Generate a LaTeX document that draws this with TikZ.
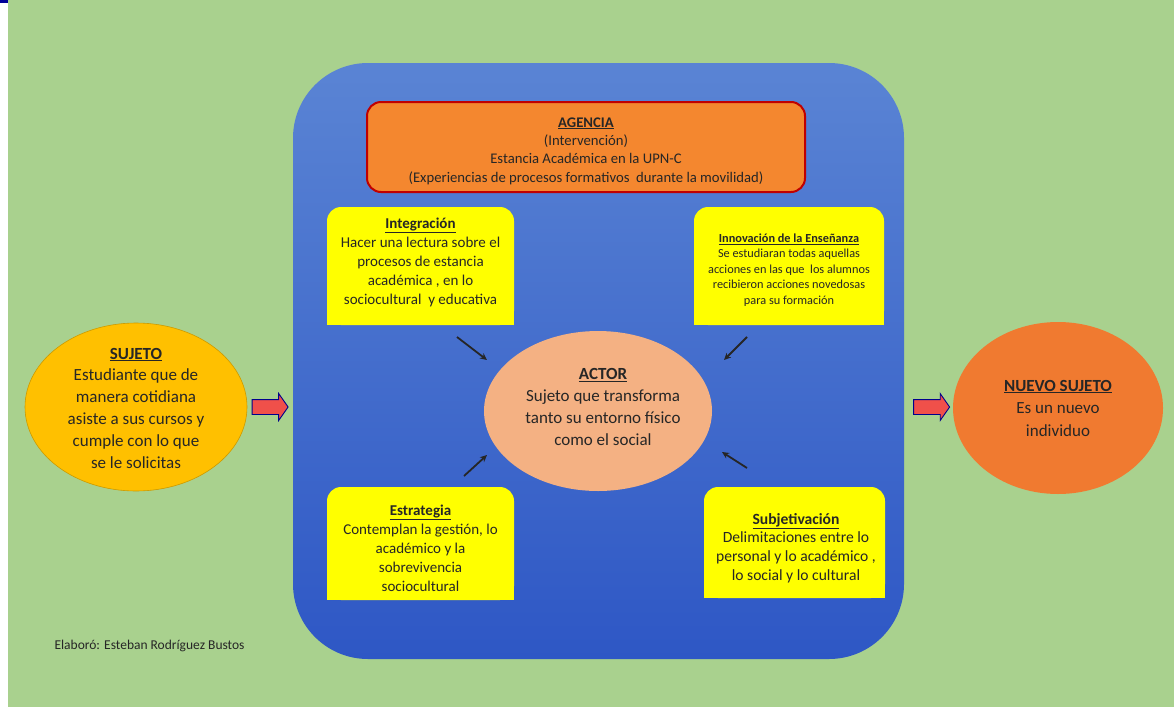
\documentclass[tikz,border=0pt]{standalone}
\usepackage{fontspec}
\setmainfont{Carlito}
\usetikzlibrary{shapes.arrows,shapes.geometric,arrows.meta}
\definecolor{bggreen}{HTML}{A9D18E}
\definecolor{bluetop}{HTML}{5A84D4}
\definecolor{bluebot}{HTML}{2E57C5}
\definecolor{agorange}{HTML}{F4872F}
\definecolor{agred}{HTML}{C00000}
\definecolor{yel}{HTML}{FFFF00}
\definecolor{salmon}{HTML}{F4B183}
\definecolor{gold}{HTML}{FFC000}
\definecolor{neworange}{HTML}{F07A30}
\definecolor{arrred}{HTML}{F0504A}
\definecolor{txt}{HTML}{262626}
\tikzset{
  ybox/.style={text=txt, align=center, font=\fontsize{15}{19}\selectfont},
  bigell/.style={ellipse},
  ltxt/.style={text=txt, align=center},
  blockarrow/.style={single arrow, fill=arrred, draw=blue!55!black, line width=0.9pt, minimum height=36pt, inner xsep=0pt, inner ysep=7pt, single arrow head extend=6pt, single arrow tip angle=110},
  smallarrow/.style={-{Stealth[length=7pt,width=6.5pt]}, line width=1.8pt, black!85}
}
\begin{document}
\begin{tikzpicture}[x=1pt,y=-1pt]
\useasboundingbox (0,0) rectangle (1174,707);
\fill[white] (0,0) rectangle (1174,707);
\fill[bggreen] (8,0) rectangle (1174,707);
\fill[blue!60!black] (0,0) rectangle (8,3);
% big blue panel
\shade[top color=bluetop, bottom color=bluebot, rounded corners=75pt] (293,63) rectangle (904,659);
% AGENCIA
\draw[fill=agorange, draw=agred, line width=2pt, rounded corners=14pt] (367,102) rectangle (805,192);
\node[ltxt, font=\fontsize{14.7}{18.4}\selectfont] (agencia) at (586,151) {\textbf{\underline{AGENCIA}}\\(Intervención)\\Estancia Académica en la UPN-C\\(Experiencias de procesos formativos\ \ durante la movilidad)};
% yellow boxes
\fill[yel, rounded corners=14pt] (327,325) |- (514,207) |- cycle;
\fill[yel] (327,310) rectangle (514,325);
\node[ybox] (integ) at (420.5,262) {\textbf{\underline{Integración}}\\Hacer una lectura sobre el\\procesos de estancia\\académica , en lo\\sociocultural\ \ y educativa};
\fill[yel, rounded corners=14pt] (694,325) |- (884,207) |- cycle;
\fill[yel] (694,310) rectangle (884,325);
\node[ybox, font=\fontsize{12.3}{15.5}\selectfont] (innov) at (789,270) {\textbf{\underline{Innovación de la Enseñanza}}\\Se estudiaran todas aquellas\\acciones en las que\ \ los alumnos\\recibieron acciones novedosas\\para su formación};
\fill[yel, rounded corners=14pt] (327,600) |- (514,487) |- cycle;
\fill[yel] (327,585) rectangle (514,600);
\node[ybox] (estrat) at (420.5,548) {\textbf{\underline{Estrategia}}\\Contemplan la gestión, lo\\académico y la\\sobrevivencia\\sociocultural};
\fill[yel, rounded corners=14pt] (704,598) |- (885,487) |- cycle;
\fill[yel] (704,583) rectangle (885,598);
\node[ybox, font=\fontsize{15.6}{18.8}\selectfont] (subj) at (796,548) {\textbf{\underline{Subjetivación}}\\Delimitaciones entre lo\\personal y lo académico ,\\lo social y lo cultural};
% ACTOR
\node[bigell, fill=salmon, minimum width=228pt, minimum height=160pt] (actor) at (598,411) {};
\node[ltxt, font=\fontsize{17}{22}\selectfont] (actortxt) at (603,407) {\textbf{\underline{ACTOR}}\\Sujeto que transforma\\tanto su entorno físico\\como el social};
% SUJETO
\node[bigell, fill=gold, draw=gold!80!black, line width=0.6pt, minimum width=222pt, minimum height=168pt] (sujeto) at (136,407) {};
\node[ltxt, font=\fontsize{17}{21.8}\selectfont] (sujetotxt) at (136,408) {\textbf{\underline{SUJETO}}\\Estudiante que de\\manera cotidiana\\asiste a sus cursos y\\cumple con lo que\\se le solicitas};
% NUEVO SUJETO
\node[bigell, fill=neworange, minimum width=210pt, minimum height=172pt] (nuevo) at (1058,408) {};
\node[ltxt, font=\fontsize{17}{22.5}\selectfont] (nuevotxt) at (1058,408) {\textbf{\underline{NUEVO SUJETO}}\\Es un nuevo\\individuo};
% block arrows
\node[blockarrow] (arrL) at (267.5,407) {};
\node[blockarrow] (arrR) at (929,407) {};
% small arrows
\coordinate (a1) at (457,337); \coordinate (b1) at (487,360);
\coordinate (a2) at (747,337); \coordinate (b2) at (724,360);
\coordinate (a3) at (464,476); \coordinate (b3) at (487,455);
\coordinate (a4) at (747,468); \coordinate (b4) at (722,452);
\draw[smallarrow] (a1) -- (b1);
\draw[smallarrow] (a2) -- (b2);
\draw[smallarrow] (a3) -- (b3);
\draw[smallarrow] (a4) -- (b4);
% footer
\node[anchor=west, text=txt, font=\fontsize{13.5}{15}\selectfont] (footer) at (51,646) {Elaboró: Esteban Rodríguez Bustos};
\end{tikzpicture}
\end{document}
